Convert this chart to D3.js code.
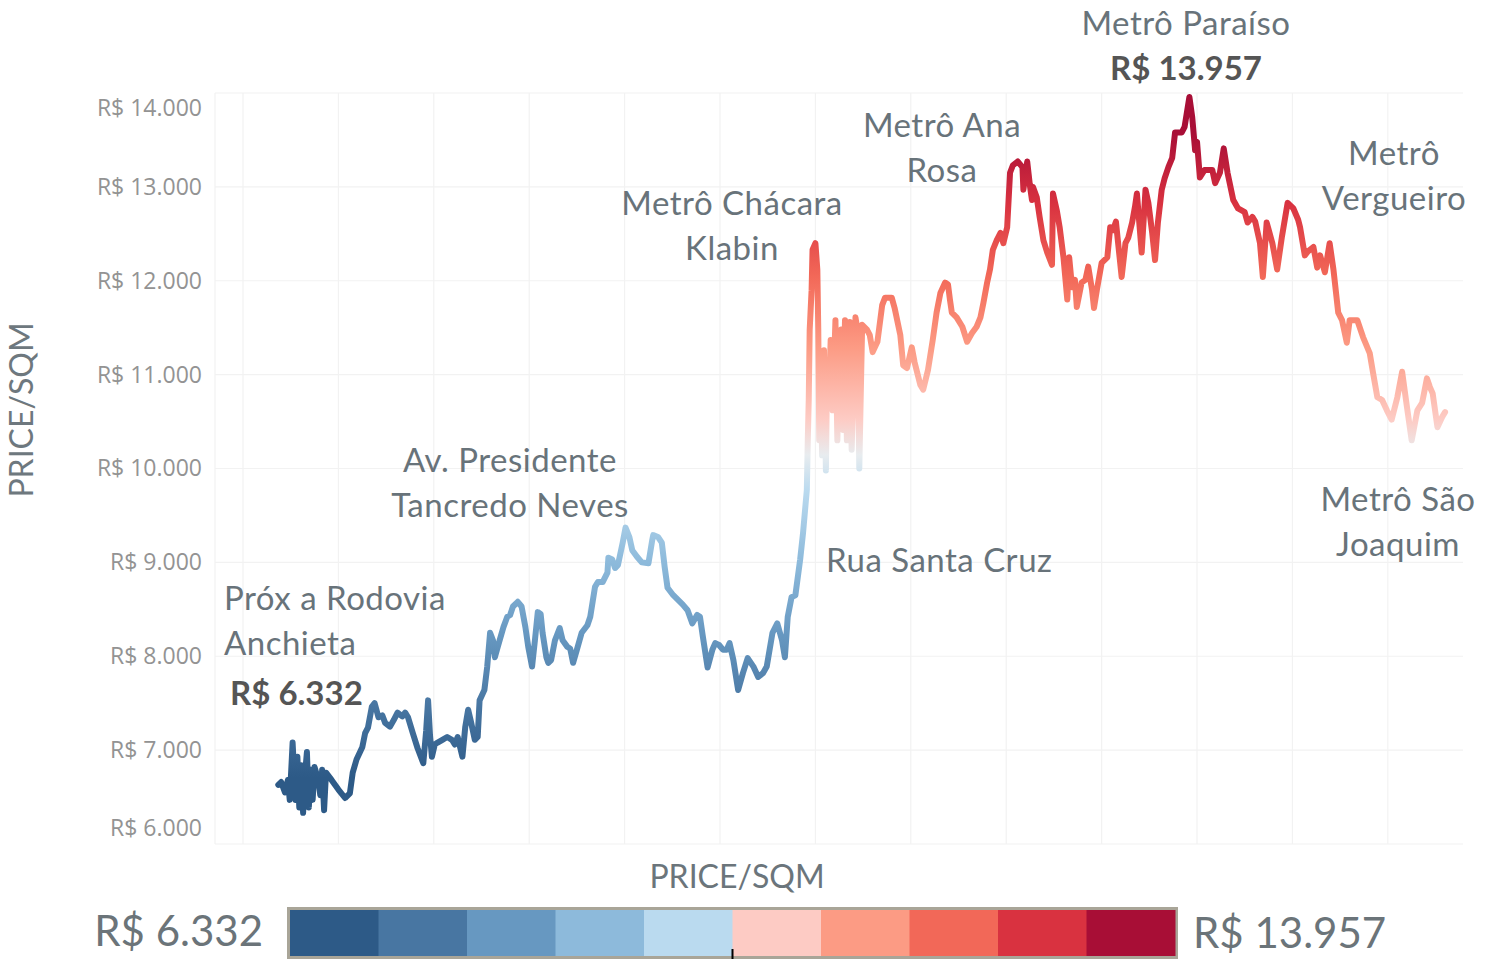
<!DOCTYPE html>
<html>
<head>
<meta charset="utf-8">
<script src="https://cdn.jsdelivr.net/npm/d3@7"></script>
<style>
  html, body { margin: 0; padding: 0; background: #fff; }
  svg { display: block; }
</style>
</head>
<body>
<svg id="chart" width="1486" height="959"></svg>
<script>
// Position along the route (grid units) and asking price per square metre (R$)
const pos = [
  0.37,0.40,0.44,0.47,0.49,0.52,0.55,0.57,0.59,0.61,
  0.63,0.65,0.67,0.69,0.71,0.73,0.75,0.79,0.81,0.83,
  0.85,0.87,0.93,1.00,1.07,1.12,1.15,1.19,1.25,1.28,
  1.31,1.35,1.38,1.42,1.46,1.49,1.54,1.58,1.62,1.67,
  1.70,1.73,1.78,1.83,1.89,1.92,1.94,1.96,1.98,2.01,
  2.04,2.09,2.14,2.19,2.22,2.25,2.30,2.33,2.36,2.39,
  2.43,2.46,2.48,2.53,2.56,2.59,2.62,2.64,2.67,2.73,
  2.77,2.80,2.83,2.88,2.92,2.96,2.99,3.03,3.06,3.09,
  3.12,3.14,3.18,3.20,3.23,3.27,3.32,3.35,3.40,3.43,
  3.46,3.50,3.55,3.61,3.64,3.69,3.72,3.77,3.82,3.83,
  3.87,3.90,3.93,3.98,4.01,4.05,4.08,4.13,4.18,4.25,
  4.29,4.30,4.35,4.39,4.42,4.45,4.51,4.56,4.61,4.66,4.71,
  4.76,4.79,4.82,4.87,4.92,4.95,4.99,5.03,5.07,5.10,5.14,
  5.19,5.24,5.29,5.35,5.40,5.45,5.49,5.55,5.60,5.65,
  5.68,5.71,5.75,5.79,5.84,5.87,5.91,
  5.92,5.93,5.94,5.96,5.97,6.00,6.02,6.03,6.04,6.06,
  6.07,6.09,6.11,6.12,6.14,6.16,6.18,6.21,6.23,6.25,
  6.27,6.29,6.31,6.33,6.36,6.38,6.42,6.44,6.46,6.49,
  6.54,6.57,6.60,6.65,6.70,6.73,6.80,6.83,6.89,6.92,
  6.96,7.01,7.04,7.10,7.13,7.18,7.23,7.27,7.31,7.36,
  7.39,7.41,7.43,7.48,7.54,7.59,7.64,7.69,7.73,7.76,
  7.80,7.83,7.86,7.90,7.94,7.97,8.01,8.04,8.07,8.12,
  8.17,8.18,8.22,8.25,8.27,8.28,8.32,8.35,8.39,8.43,
  8.48,8.49,8.53,8.56,8.60,8.64,8.66,8.69,8.72,8.74,
  8.79,8.83,8.86,8.90,8.92,8.95,9.00,9.06,9.09,9.12,
  9.15,9.17,9.21,9.25,9.28,9.32,9.35,9.37,9.39,9.42,
  9.46,9.49,9.53,9.56,9.59,9.63,9.66,9.70,9.74,9.77,
  9.84,9.87,9.92,9.95,9.98,10.00,10.03,10.08,10.16,10.19,
  10.24,10.28,10.32,10.38,10.43,10.50,10.53,10.58,10.61,10.66,
  10.69,10.73,10.79,10.84,10.89,10.95,11.01,11.06,11.08,11.13,
  11.16,11.22,11.26,11.29,11.34,11.39,11.43,11.48,11.52,11.57,
  11.60,11.68,11.74,11.81,11.84,11.89,11.94,11.99,12.04,12.10,
  12.15,12.20,12.25,12.31,12.36,12.41,12.44,12.47,12.52,12.57,12.60
];

const price = [
  6630,6660,6550,6680,6470,7080,6470,6930,6390,6840,
  6332,6740,6980,6390,6790,6470,6820,6680,6520,6790,
  6360,6760,6680,6580,6490,6540,6760,6900,7030,7180,
  7240,7460,7500,7350,7370,7290,7250,7320,7400,7360,
  7400,7350,7180,7020,6860,7210,7530,7160,6930,7060,
  7080,7110,7140,7110,7060,7140,6930,7250,7430,7300,
  7110,7140,7530,7640,7890,8250,8170,7990,8100,8310,
  8420,8440,8530,8580,8530,8310,8100,7890,8170,8470,
  8450,8250,7990,7930,7960,8170,8300,8170,8100,8080,
  7930,8070,8250,8330,8420,8740,8790,8790,8890,9050,
  9030,8940,8970,9210,9370,9270,9130,9060,9000,8990,
  9240,9290,9270,9210,8950,8730,8650,8600,8550,8490,8350,
  8440,8420,8210,7880,8070,8140,8120,8070,8070,8140,7960,
  7640,7820,7980,7890,7780,7820,7890,8250,8350,8170,
  7990,8420,8630,8650,9030,9310,9770,
  10300,10730,11480,11900,12330,12400,12120,11480,10300,10940,
  10140,11260,9980,10840,10730,11370,10620,11580,10300,11260,
  11480,10410,11580,10300,11560,10200,11610,11480,10000,11530,
  11480,11420,11240,11350,11740,11820,11820,11710,11420,11100,
  11070,11290,11130,10890,10840,11050,11370,11660,11870,11980,
  11960,11800,11660,11610,11510,11350,11440,11510,11610,11760,
  11980,12120,12330,12430,12510,12400,12570,13150,13230,13270,
  13210,12970,13270,13000,12860,13000,12890,12680,12430,12300,
  12170,12930,12750,12570,12250,11800,12250,11930,12010,11720,
  11980,12010,12150,11900,11710,11900,12190,12250,12570,12540,
  12630,12430,12040,12400,12460,12620,12790,12930,12680,12300,
  12970,12830,12510,12220,12620,12970,13090,13210,13310,13580,
  13580,13640,13957,13740,13390,13480,13100,13180,13180,13040,
  13150,13410,13150,12860,12770,12730,12620,12680,12630,12400,
  12040,12620,12400,12120,12470,12830,12770,12650,12570,12270,
  12310,12360,12140,12270,12090,12400,12120,11660,11580,11340,
  11580,11580,11400,11230,11050,10760,10730,10620,10520,10760,
  11030,10660,10300,10620,10700,10960,10870,10800,10440,10550,10600
];

const yTickValues = [6000, 7000, 8000, 9000, 10000, 11000, 12000, 13000, 14000];
const xGridValues = [0, 1, 2, 3, 4, 5, 6, 7, 8, 9, 10, 11, 12];

// Stepped diverging palette shown in the legend (low -> high)
const legendColors = ["#2d5a87", "#4876a2", "#6798c1", "#8dbadb", "#badaef",
                      "#fdcbc4", "#fc9b84", "#f26858", "#d93240", "#a80e36"];

// Neighbourhood / station labels
const places = [
  { lines: ["Próx a Rodovia", "Anchieta"], x: 224, y: 610, anchor: "start" },
  { lines: ["Av. Presidente", "Tancredo Neves"], x: 510, y: 472, anchor: "middle" },
  { lines: ["Metrô Chácara", "Klabin"], x: 732, y: 215, anchor: "middle" },
  { lines: ["Rua Santa Cruz"], x: 826, y: 572, anchor: "start" },
  { lines: ["Metrô Ana", "Rosa"], x: 942, y: 137, anchor: "middle" },
  { lines: ["Metrô Paraíso"], x: 1186, y: 35, anchor: "middle" },
  { lines: ["Metrô", "Vergueiro"], x: 1394, y: 165, anchor: "middle" },
  { lines: ["Metrô São", "Joaquim"], x: 1398, y: 511, anchor: "middle" }
];

const data = pos.map((p, i) => ({ p, v: price[i] }));
const minV = d3.min(price), maxV = d3.max(price);

const brl = d3.formatLocale({ decimal: ",", thousands: ".", grouping: [3], currency: ["R$ ", ""] });
const fmt = brl.format("$,.0f");

const svg = d3.select("#chart");
const plot = { left: 215, right: 1463, top: 93, bottom: 844 };

const x = d3.scaleLinear().domain([-0.2935, 12.788]).range([plot.left, plot.right]);
const y = d3.scaleLinear().domain([6000, 14000]).range([plot.bottom, plot.top]);

// Continuous colour by value, built from the legend steps around a pale midpoint
const colorStops = [0.05, 0.15, 0.25, 0.35, 0.45, 0.5, 0.55, 0.65, 0.75, 0.85, 0.95];
const colorRange = legendColors.slice(0, 5).concat(["#e8ecef"], legendColors.slice(5));
const color = d3.scaleLinear()
  .domain(colorStops.map(t => minV + t * (maxV - minV)))
  .range(colorRange)
  .interpolate(d3.interpolateRgb)
  .clamp(true);

// Grid
const grid = svg.append("g").attr("class", "grid");
grid.selectAll("line.h").data(yTickValues).join("line")
  .attr("class", "h")
  .attr("x1", plot.left).attr("x2", plot.right)
  .attr("y1", d => y(d)).attr("y2", d => y(d))
  .attr("stroke", "#f2f2f2").attr("stroke-width", 1.2);
grid.selectAll("line.v").data(xGridValues).join("line")
  .attr("class", "v")
  .attr("y1", plot.top).attr("y2", plot.bottom)
  .attr("x1", d => x(d)).attr("x2", d => x(d))
  .attr("stroke", "#f2f2f2").attr("stroke-width", 1.2);
grid.append("line")
  .attr("x1", plot.left).attr("x2", plot.left)
  .attr("y1", plot.top).attr("y2", plot.bottom)
  .attr("stroke", "#f2f2f2").attr("stroke-width", 1.2);

// Y axis labels
const yAxis = d3.axisLeft(y).tickValues(yTickValues).tickSize(0).tickPadding(13).tickFormat(fmt);
const yg = svg.append("g").attr("transform", `translate(${plot.left},0)`).call(yAxis);
yg.select(".domain").remove();
yg.selectAll("text")
  .attr("font-family", "'Open Sans', sans-serif")
  .attr("font-size", 23)
  .attr("fill", "#939393")
  .attr("dy", d => d === 14000 ? "0.98em" : d === 6000 ? "-0.38em" : "0.32em");

// Line coloured by value through a vertical gradient
const defs = svg.append("defs");
const grad = defs.append("linearGradient")
  .attr("id", "priceGrad")
  .attr("gradientUnits", "userSpaceOnUse")
  .attr("x1", 0).attr("x2", 0)
  .attr("y1", y(minV)).attr("y2", y(maxV));
d3.range(0, 1.0001, 0.025).forEach(t => {
  grad.append("stop").attr("offset", t).attr("stop-color", color(minV + t * (maxV - minV)));
});

const line = d3.line().x(d => x(d.p)).y(d => y(d.v)).curve(d3.curveLinear);
svg.append("path")
  .datum(data)
  .attr("d", line)
  .attr("fill", "none")
  .attr("stroke", "url(#priceGrad)")
  .attr("stroke-width", 6)
  .attr("stroke-linejoin", "round")
  .attr("stroke-linecap", "round");

// Place labels
const labelFont = "Lato, 'Open Sans', sans-serif";
const lab = svg.append("g");
places.forEach(pl => {
  const t = lab.append("text")
    .attr("x", pl.x).attr("y", pl.y)
    .attr("text-anchor", pl.anchor)
    .attr("font-family", labelFont)
    .attr("font-size", 33)
    .attr("letter-spacing", 0.5)
    .attr("fill", "#68737a");
  pl.lines.forEach((s, i) => {
    t.append("tspan").attr("x", pl.x).attr("dy", i === 0 ? 0 : 45).text(s);
  });
});

// Extreme values
lab.append("text")
  .attr("x", 230).attr("y", 705)
  .attr("font-family", labelFont).attr("font-weight", 700)
  .attr("font-size", 33).attr("fill", "#555")
  .text(fmt(minV));
lab.append("text")
  .attr("x", 1186).attr("y", 80).attr("text-anchor", "middle")
  .attr("font-family", labelFont).attr("font-weight", 700)
  .attr("font-size", 33).attr("fill", "#555")
  .text(fmt(maxV));

// Axis titles
svg.append("text")
  .attr("x", 737).attr("y", 888).attr("text-anchor", "middle")
  .attr("font-family", labelFont).attr("font-size", 32).attr("fill", "#6b757b")
  .text("PRICE/SQM");
svg.append("text")
  .attr("transform", "translate(33,410) rotate(-90)")
  .attr("text-anchor", "middle")
  .attr("font-family", labelFont).attr("font-size", 32).attr("fill", "#6e787e")
  .text("PRICE/SQM");

// Colour legend
const leg = { x0: 290, x1: 1175, y0: 910, y1: 956 };
const lx = d3.scaleBand().domain(d3.range(legendColors.length)).range([leg.x0, leg.x1]);
const lg = svg.append("g");
lg.append("rect")
  .attr("x", leg.x0 - 1.5).attr("y", leg.y0 - 1.5)
  .attr("width", leg.x1 - leg.x0 + 3).attr("height", leg.y1 - leg.y0 + 3)
  .attr("fill", "none").attr("stroke", "#a9a598").attr("stroke-width", 3);
lg.selectAll("rect.sw").data(legendColors).join("rect")
  .attr("class", "sw")
  .attr("x", (d, i) => lx(i)).attr("y", leg.y0)
  .attr("width", lx.bandwidth() + 0.5).attr("height", leg.y1 - leg.y0)
  .attr("fill", d => d);
lg.append("line")
  .attr("x1", (leg.x0 + leg.x1) / 2).attr("x2", (leg.x0 + leg.x1) / 2)
  .attr("y1", 949).attr("y2", 959)
  .attr("stroke", "#000").attr("stroke-width", 2);
lg.append("text")
  .attr("x", 263).attr("y", 946).attr("text-anchor", "end")
  .attr("font-family", labelFont).attr("font-size", 42).attr("fill", "#6b7479")
  .text(fmt(minV));
lg.append("text")
  .attr("x", 1193).attr("y", 948)
  .attr("font-family", labelFont).attr("font-size", 42).attr("fill", "#6b7479")
  .text(fmt(maxV));
</script>
</body>
</html>
